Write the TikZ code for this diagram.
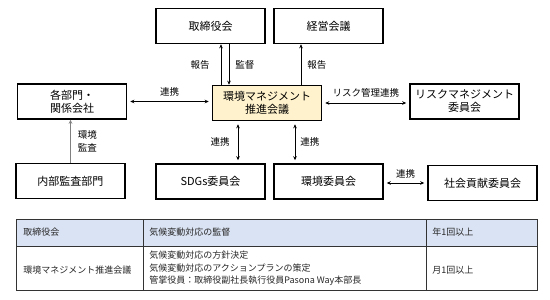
\documentclass[tikz,border=0pt]{standalone}
\usepackage{fontspec}
\setmainfont{Noto Sans CJK JP}
\usetikzlibrary{arrows.meta}

\definecolor{creamfill}{HTML}{FFF2CC}
\definecolor{headblue}{HTML}{DAE3F3}

\begin{document}
\begin{tikzpicture}[
			x = 1pt, y = -1pt, % pixel-like units, y down
			> = {Stealth[length=4pt,width=3.6pt]}, % arrow head style
			semithick, % line style
			box/.style = {draw = black, line width = 1.6pt, fill = white,
				minimum width = 109pt, minimum height = 35pt, align = center,
				font = \fontsize{11}{13}\selectfont},
			lbl/.style = {inner sep = 1pt, align = center,
				font = \fontsize{9.5}{12.5}\selectfont},
			link/.style = {<->, line width = 0.7pt, shorten > = 3pt, shorten < = 3pt},
			cell/.style = {anchor = west, inner sep = 0pt, align = left,
				font = \fontsize{9}{12.5}\selectfont, text = black!85}
			]
			
			\useasboundingbox (0,0) rectangle (550,300);
			
			% upper boxes
			\node[box] (board)  at (210.5,26)  {取締役会};
			\node[box] (mgmt)   at (328.5,26)  {経営会議};
			\node[box] (depts)  at (72,101.5)  {各部門・\\関係会社};
			\node[box, fill = creamfill] (promo) at (267,103) {環境マネジメント\\推進会議};
			\node[box] (risk)   at (464.5,101.5) {リスクマネジメント\\委員会};
			
			% lower boxes
			\node[box] (audit)  at (70.5,181)  {内部監査部門};
			\node[box] (sdgs)   at (210.5,181.5) {SDGs委員会};
			\node[box] (env)    at (328.5,181.5) {環境委員会};
			\node[box] (social) at (482.5,183) {社会貢献委員会};
			
			% reports and supervision
			\draw[->, line width = 0.7pt] ([xshift=-46pt]promo.north) -- ([xshift=-46pt]promo.north |- board.south)
				node[lbl, midway, left = 10pt] {報告};
			\draw[->, line width = 0.7pt] ([xshift=-38pt]promo.north |- board.south) -- ([xshift=-38pt]promo.north)
				node[lbl, midway, right = 5pt] {監督};
			\draw[->, line width = 0.7pt] ([xshift=34pt]promo.north) -- ([xshift=34pt]promo.north |- mgmt.south)
				node[lbl, midway, right = 5pt] {報告};
			
			% cooperation
			\draw[link] (depts.east) -- (depts.east -| promo.west)
				node[lbl, midway, above = 4pt] {連携};
			\draw[link] (promo.east) -- (promo.east -| risk.west)
				node[lbl, midway, above = 4pt] {リスク管理連携};
			\draw[link] ([xshift=-29pt]promo.south) -- ([xshift=-29pt]promo.south |- sdgs.north)
				node[lbl, midway, left = 7pt] {連携};
			\draw[link] ([xshift=28pt]promo.south) -- ([xshift=28pt]promo.south |- env.north)
				node[lbl, midway, right = 4pt] {連携};
			\draw[link] (social.west -| env.east) -- (social.west)
				node[lbl, midway, above = 3pt] {連携};
			
			% audit
			\draw[->, line width = 0.7pt, draw = gray] (audit.north) -- (audit.north |- depts.south)
				node[lbl, midway, right = 6pt, text = black] {環境\\監査};
			
			% table
			\fill[headblue] (16,219) rectangle (537,246);
			\draw[black!80, line width = 0.8pt] (16,219) rectangle (537,290);
			\draw[black!80, line width = 0.6pt] (16,246) -- (537,246)
				(143,219) -- (143,290)
				(426,219) -- (426,290);
			
			\node[cell] (t11) at (23,232.5)  {取締役会};
			\node[cell] (t12) at (149,232.5) {気候変動対応の監督};
			\node[cell] (t13) at (432,232.5) {年1回以上};
			\node[cell] (t21) at (23,270)    {環境マネジメント推進会議};
			\node[cell] (t22) at (149,268.5) {気候変動対応の方針決定\\気候変動対応のアクションプランの策定\\管掌役員：取締役副社長執行役員Pasona Way本部長};
			\node[cell] (t23) at (432,270)   {月1回以上};
		\end{tikzpicture}
\end{document}
